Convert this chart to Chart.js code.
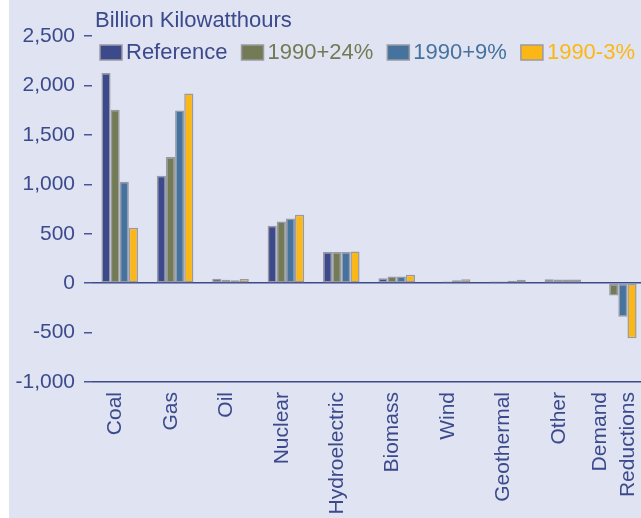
<!DOCTYPE html>
<html>
<head>
<meta charset="utf-8">
<script src="https://cdn.jsdelivr.net/npm/chart.js@4/dist/chart.umd.min.js"></script>
<style>
  html, body { margin: 0; padding: 0; background: #ffffff; overflow: hidden; }
  #wrap { position: absolute; left: 9px; top: 0; width: 640px; height: 518px; background: #e0e3f1; }
</style>
</head>
<body>
<div id="wrap"><canvas id="chart"></canvas></div>
<script>
"use strict";

// Data (billion kWh)
const categories = ['Coal', 'Gas', 'Oil', 'Nuclear', 'Hydroelectric', 'Biomass', 'Wind', 'Geothermal', 'Other', ['Demand', 'Reductions']];
const seriesNames = ['Reference', '1990+24%', '1990+9%', '1990-3%'];
const reference = [2125, 1086, 45, 580, 314, 50, 10, 17, 40, 0];
const plus24 = [1754, 1275, 35, 623, 314, 67, 17, 17, 38, -125];
const plus9 = [1025, 1747, 28, 654, 314, 67, 30, 24, 38, -341];
const minus3 = [560, 1919, 42, 691, 320, 84, 40, 34, 38, -557];
const colors = ['#3c4a8b', '#737a56', '#45739e', '#fbb715'];

const unitTitle = 'Billion Kilowatthours';
const textColor = '#3b4a8c';
const font = '"Liberation Sans", Arial, sans-serif';

Chart.defaults.font.family = font;
Chart.defaults.font.size = 21;
Chart.defaults.color = textColor;

// Titel och legend ritas för hand
const overlay = {
  id: 'overlay',
  beforeDraw(chart) {
    // tvåradiga etiketter centreras kring stapelgruppen
    chart.scales.x.getLabelItems().forEach(item => {
      const t = item.options && item.options.translation;
      if (t && Array.isArray(item.label) && !item.shifted) {
        t[0] -= item.font.lineHeight / 2;
        item.shifted = true;
      }
    });
  },
  afterDraw(chart) {
    const c = chart.ctx;
    c.save();
    c.font = '22px ' + font;
    c.textBaseline = 'alphabetic';
    c.fillStyle = textColor;
    c.fillText(unitTitle, 86, 27);

    let x = 91;
    c.textBaseline = 'middle';
    chart.data.datasets.forEach(ds => {
      c.fillStyle = ds.backgroundColor;
      c.fillRect(x, 45, 22, 15);
      c.strokeStyle = '#9a9aa2';
      c.lineWidth = 1.5;
      c.strokeRect(x, 45, 22, 15);
      c.fillStyle = ds.backgroundColor;
      c.fillText(ds.label, x + 26, 53);
      x += 26 + c.measureText(ds.label).width + 14;
    });
    c.restore();
  }
};

const datasets = [reference, plus24, plus9, minus3].map((values, i) => ({
  label: seriesNames[i],
  data: values,
  backgroundColor: colors[i],
  borderColor: 'rgba(140,140,150,0.85)',
  borderWidth: 1.5,
  borderSkipped: false,
  categoryPercentage: 0.66,
  barPercentage: 1.0
}));

new Chart(document.getElementById('chart'), {
  type: 'bar',
  data: { labels: categories, datasets: datasets },
  options: {
    responsive: true,
    maintainAspectRatio: false,
    animation: false,
    layout: { padding: { top: 36, right: 3, bottom: 0, left: 0 } },
    plugins: {
      legend: { display: false },
      title: { display: false },
      tooltip: { enabled: false }
    },
    scales: {
      x: {
        afterFit(scale) {
          scale.height = 136;
          scale.paddingLeft = 0;
          scale.paddingRight = 0;
        },
        grid: { display: false, drawTicks: false },
        border: { display: false },
        ticks: {
          autoSkip: false,
          minRotation: 90,
          maxRotation: 90,
          padding: 10,
          labelOffset: -4,
          color: textColor,
          font: { size: 21, lineHeight: 1.33 }
        }
      },
      y: {
        min: -1000,
        max: 2500,
        afterFit(scale) {
          scale.width = 83;
          scale.paddingTop = 0;
          scale.paddingBottom = 0;
        },
        border: { display: false },
        grid: {
          color: ctx => (ctx.tick && (ctx.tick.value === 0 || ctx.tick.value === -1000)) ? '#3d4a8a' : 'rgba(0,0,0,0)',
          tickColor: '#4a5796',
          tickLength: 8,
          lineWidth: 1.5
        },
        ticks: {
          stepSize: 500,
          padding: 9,
          color: textColor,
          callback: v => v.toLocaleString('en-US')
        }
      }
    }
  },
  plugins: [overlay]
});
</script>
</body>
</html>
